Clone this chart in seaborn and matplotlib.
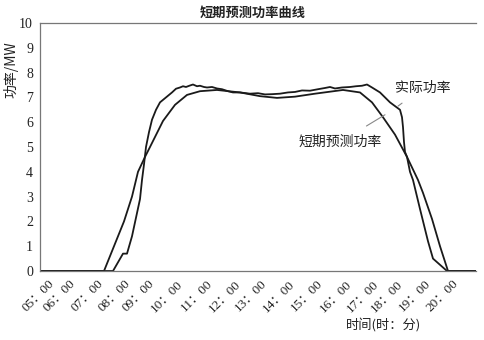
import matplotlib
matplotlib.use("Agg")
import matplotlib.pyplot as plt
import seaborn as sns
import pandas as pd

# ---- data (x in sample-index units of the original time axis) ----
tick_pos = [2, 7.25, 14.25, 21, 27, 34.25, 41.5, 48.75, 55.25, 62.25, 69.25, 76.5, 83.25, 89.25, 96.25, 103]
tick_labels = ["05：00", "06：00", "07：00", "08：00", "09：00", "10：00", "11：00", "12：00",
               "13：00", "14：00", "15：00", "16：00", "17：00", "18：00", "19：00", "20：00"]

forecast_x = [0, 16, 18.5, 21, 23, 24.5, 26.25, 27.5, 30.75, 33.75, 36.75, 40, 44.25, 50, 55,
              59.25, 63.75, 68.75, 75.75, 80, 83, 85.75, 88.75, 91.75, 94.5, 95.75, 98, 100, 102, 109]
forecast_y = [0, 0, 1.0, 2.0, 3.0, 4.0, 4.6, 5.0, 6.05, 6.7, 7.1, 7.25, 7.3, 7.2, 7.05,
              6.98, 7.03, 7.15, 7.3, 7.2, 6.8, 6.2, 5.5, 4.6, 3.67, 3.15, 2.1, 1.0, 0, 0]

actual_x = [0, 18.25, 19.5, 20.75, 21.75, 23, 25, 25.5, 26, 26.5, 27.25, 28, 29, 30, 31.5, 33, 34,
            35, 35.75, 36.5, 37.5, 38.25, 39.25, 40, 41, 41.75, 43, 44.25, 45.5, 47, 48.25, 50,
            52.5, 54.5, 56.25, 58, 60, 62, 63.75, 65.5, 67.5, 69.5, 71.25, 72.5, 73.75, 75.5,
            77.5, 79, 80.5, 81.75, 83, 84, 85, 86.25, 87.5, 88.75, 90, 90.5, 90.75, 91, 91.25,
            91.75, 92.5, 93.25, 95, 97, 98.25, 100, 101.75, 109]
actual_y = [0, 0, 0.35, 0.7, 0.7, 1.4, 2.9, 3.67, 4.3, 5.0, 5.6, 6.1, 6.5, 6.8, 7.0, 7.2, 7.35,
            7.4, 7.45, 7.42, 7.48, 7.52, 7.45, 7.47, 7.42, 7.4, 7.42, 7.36, 7.33, 7.25, 7.2, 7.2,
            7.15, 7.17, 7.12, 7.13, 7.15, 7.2, 7.22, 7.28, 7.27, 7.33, 7.38, 7.42, 7.36, 7.4,
            7.42, 7.45, 7.47, 7.52, 7.4, 7.3, 7.2, 7.0, 6.8, 6.65, 6.5, 6.2, 5.8, 5.2, 4.8,
            4.6, 4.0, 3.67, 2.5, 1.2, 0.5, 0.25, 0, 0]

title = "短期预测功率曲线"
ylabel = "功率/MW"
xlabel = "时间(时：分)"
label_actual = "实际功率"
label_forecast = "短期预测功率"

sns.set_theme(style="white")
plt.rcParams["font.family"] = ["Liberation Serif", "Noto Sans CJK SC", "DejaVu Sans"]

fig = plt.figure(figsize=(4.85, 3.4), dpi=100)
ax = fig.add_axes([40 / 485, 1 - 271 / 340, 436 / 485, 248 / 340])

df_f = pd.DataFrame({"x": forecast_x, "y": forecast_y})
df_a = pd.DataFrame({"x": actual_x, "y": actual_y})
sns.lineplot(data=df_f, x="x", y="y", ax=ax, color="#1a1a1a", lw=1.3, sort=False, estimator=None)
sns.lineplot(data=df_a, x="x", y="y", ax=ax, color="#1a1a1a", lw=1.3, sort=False, estimator=None)

ax.set_xlim(0, 109)
ax.set_ylim(0, 10)
ax.set_yticks(range(0, 11))
ax.set_xticks(tick_pos)
ax.set_xticklabels(tick_labels, rotation=45, ha="right", va="top", rotation_mode="anchor", fontsize=9.5)
for lab in ax.get_yticklabels():
    lab.set_fontsize(10)
ax.tick_params(axis="y", direction="out", length=3, width=0.8, color="#777777", pad=2, labelcolor="#222222")
ax.tick_params(axis="x", direction="in", length=4, width=0.8, color="#777777", pad=5, labelcolor="#222222")

for s in ["left", "top", "bottom"]:
    ax.spines[s].set_visible(True)
    ax.spines[s].set_color("#777777")
    ax.spines[s].set_linewidth(0.9)
ax.spines["right"].set_visible(False)

ax.set_xlabel("")
ax.set_ylabel(ylabel, fontsize=10, family=["Noto Sans CJK SC", "DejaVu Sans"], color="#222222")
ax.yaxis.set_label_coords(-0.05, 0.81)

ax.text(0.787, -0.218, xlabel, transform=ax.transAxes, ha="center", va="center",
        fontsize=9.5, family=["Noto Sans CJK SC", "DejaVu Sans"], color="#222222")
fig.text(253 / 485, 1 - 13 / 340, title, ha="center", va="center", fontsize=9.5,
         family=["Noto Sans CJK SC", "DejaVu Sans"], fontweight="bold", color="#222222")

ax.annotate(label_actual, xy=(89.5, 6.65), xytext=(95.75, 7.38), ha="center", va="center",
            fontsize=10, family=["Noto Sans CJK SC", "DejaVu Sans"], color="#222222",
            arrowprops=dict(arrowstyle="-", color="#888888", lw=0.8, shrinkA=6, shrinkB=0))
ax.annotate(label_forecast, xy=(86.25, 6.3), xytext=(75, 5.2), ha="center", va="center",
            fontsize=10, family=["Noto Sans CJK SC", "DejaVu Sans"], color="#222222",
            arrowprops=dict(arrowstyle="-", color="#888888", lw=0.8, shrinkA=8, shrinkB=0))

fig.savefig("out.png", dpi=100)
